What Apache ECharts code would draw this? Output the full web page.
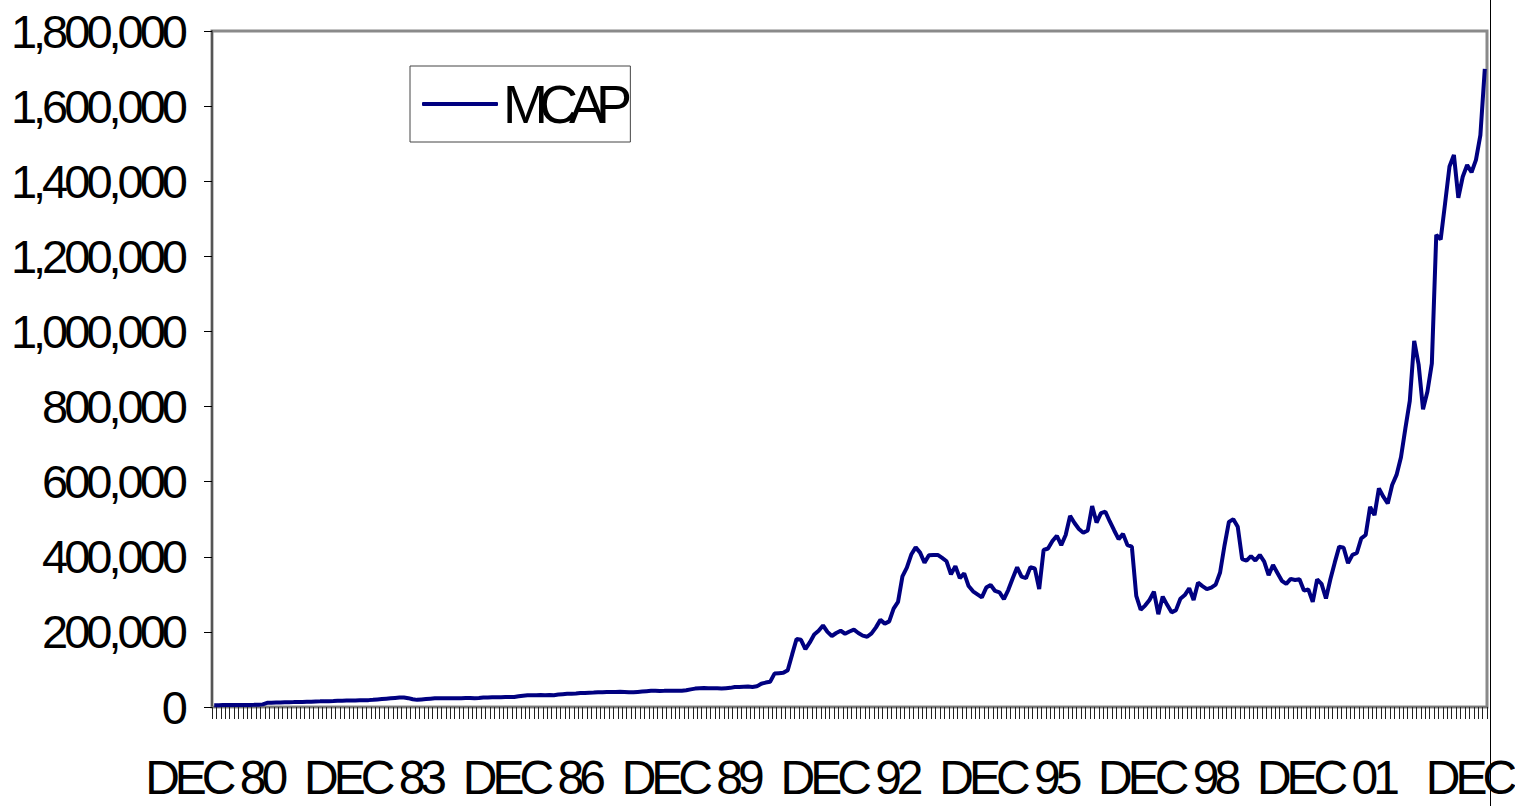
<!DOCTYPE html>
<html>
<head>
<meta charset="utf-8">
<title>MCAP</title>
<script src="https://cdn.jsdelivr.net/npm/echarts@6/dist/echarts.min.js"></script>
<style>
  html, body { margin: 0; padding: 0; background: #ffffff; }
  #main { width: 1515px; height: 806px; }
  /* Excel-style tall, tightly tracked labels */
  #main text[style*="47px"] { letter-spacing: -4px; }
  #main text[style*="40px"] { font-size: 48px !important; letter-spacing: -5px; }
  #main text[style*="42px"] { font-size: 54px !important; letter-spacing: -9px; }
</style>
</head>
<body>
<div id="main"></div>
<script>
// monthly market cap, DEC 80 .. DEC 04
var startYear = 1980;
var seriesName = 'MCAP';
var mcap = [
  4800, 4900, 5000, 5100, 5000, 5200, 5300, 5400, 5600, 5800, 6200, 7000,
  11000, 11500, 12000, 12200, 12500, 12800, 13000, 13300, 13500, 14000, 14300, 14800,
  15000, 15300, 15600, 16000, 16500, 16800, 17000, 17200, 17500, 17800, 18000, 18300,
  19000, 20000, 21000, 22000, 23000, 24000, 25000, 25500, 23500, 20500, 19000, 20000,
  21000, 22000, 23000, 23000, 23200, 23000, 23300, 23500, 23400, 24000, 24200, 23500,
  24000, 25000, 25300, 26000, 26200, 26000, 26300, 26500, 26800, 28500, 30000, 31000,
  31200, 31000, 31800, 31300, 32000, 31500, 33000, 34000, 35000, 35500, 36000, 37000,
  37200, 38000, 38300, 39000, 39500, 40000, 40200, 40000, 40500, 40000, 39200, 39000,
  40000, 41000, 42000, 43000, 43200, 42800, 43000, 43500, 43000, 43200, 43500, 44500,
  47000, 49000, 50000, 50300, 50000, 50200, 49800, 49000, 50000, 51000, 53000, 53200,
  54000, 54500, 53500, 55000, 62000, 65000, 67000, 89000, 90000, 91000, 98000, 140000,
  181000, 179000, 154000, 172000, 193000, 203000, 217000, 200000, 189000, 197000, 203000, 195000,
  201000, 206000, 197000, 190000, 187000, 196000, 212000, 232000, 222000, 228000, 262000, 280000,
  348000, 371000, 406000, 425000, 411000, 384000, 404000, 405000, 405000, 397000, 388000, 353000,
  375000, 343000, 356000, 322000, 308000, 300000, 292000, 318000, 325000, 309000, 305000, 287000,
  312000, 343000, 372000, 347000, 343000, 372000, 369000, 314000, 418000, 422000, 442000, 456000,
  431000, 458000, 509000, 490000, 474000, 464000, 470000, 535000, 491000, 516000, 520000, 494000,
  470000, 447000, 461000, 431000, 427000, 296000, 259000, 270000, 285000, 307000, 247000, 294000,
  272000, 252000, 258000, 288000, 298000, 316000, 285000, 331000, 322000, 314000, 318000, 326000,
  358000, 430000, 493000, 500000, 480000, 394000, 390000, 402000, 390000, 405000, 387000, 351000,
  378000, 357000, 336000, 328000, 341000, 338000, 340000, 310000, 313000, 280000, 340000, 328000,
  289000, 340000, 385000, 427000, 424000, 383000, 405000, 410000, 449000, 458000, 533000, 511000,
  582000, 560000, 542000, 591000, 618000, 665000, 742000, 815000, 975000, 912000, 793000, 840000,
  915000, 1257000, 1245000, 1341000, 1439000, 1470000, 1356000, 1412000, 1443000, 1424000, 1457000, 1523000,
  1699000
];
var monthNames = ['DEC', 'JAN', 'FEB', 'MAR', 'APR', 'MAY', 'JUN', 'JUL', 'AUG', 'SEP', 'OCT', 'NOV'];
var yTicks = [0, 200000, 400000, 600000, 800000, 1000000, 1200000, 1400000, 1600000, 1800000];

// category labels like "DEC 80", "JAN 81" ...
var months = [];
for (var i = 0; i < mcap.length; i++) {
  var yr = startYear + Math.ceil(i / 12);
  months.push(monthNames[i % 12] + ' ' + String(yr).slice(2));
}

var FONT = "Liberation Sans";

var myChart = echarts.init(document.getElementById('main'), null, { renderer: 'svg' });
myChart.setOption({
  animation: false,
  backgroundColor: '#ffffff',
  grid: {
    left: 212,
    right: 28,
    top: 31,
    bottom: 99,
    containLabel: false,
    outerBoundsMode: 'none',
    show: true,
    borderColor: '#8a8a8a',
    borderWidth: 3,
    backgroundColor: '#ffffff'
  },
  legend: {
    data: [seriesName],
    left: 410,
    top: 66,
    orient: 'horizontal',
    padding: [17, 6, 17, 12],
    backgroundColor: '#ffffff',
    borderColor: '#444444',
    borderWidth: 1,
    borderRadius: 0,
    itemWidth: 76,
    itemHeight: 4,
    icon: 'roundRect',
    textStyle: { color: '#000000', fontSize: 42, fontFamily: FONT }
  },
  xAxis: {
    type: 'category',
    data: months,
    boundaryGap: true,
    axisLine: { lineStyle: { color: '#7a7a7a', width: 2 } },
    axisTick: {
      show: true,
      interval: 0,
      length: 12,
      lineStyle: { color: '#222222', width: 1 }
    },
    axisLabel: {
      interval: 35,
      margin: 50,
      color: '#000000',
      fontSize: 40,
      fontFamily: FONT,
      hideOverlap: false,
      showMinLabel: true,
      showMaxLabel: true,
      formatter: function (v, idx) {
        if (idx === mcap.length - 1) return '{end|' + v + '}';
        return v;
      },
      rich: {
        end: { padding: [0, 0, 0, 20], fontSize: 40, fontFamily: FONT, color: '#000000' }
      }
    },
    splitLine: { show: false }
  },
  yAxis: {
    type: 'value',
    min: yTicks[0],
    max: yTicks[yTicks.length - 1],
    interval: yTicks[1] - yTicks[0],
    axisLine: { show: true, lineStyle: { color: '#555555', width: 2 } },
    axisTick: { show: true, length: 8, lineStyle: { color: '#000000', width: 1 } },
    axisLabel: {
      margin: 28,
      color: '#000000',
      fontSize: 47,
      fontFamily: FONT,
      formatter: function (v) { return v.toLocaleString('en-US'); }
    },
    splitLine: { show: false }
  },
  series: [
    {
      name: seriesName,
      type: 'line',
      data: mcap,
      symbol: 'none',
      smooth: false,
      lineStyle: { color: '#000080', width: 4 },
      itemStyle: { color: '#000080' }
    }
  ],
  graphic: [
    {
      type: 'line',
      shape: { x1: 1490.5, y1: 0, x2: 1490.5, y2: 806 },
      style: { stroke: '#000000', lineWidth: 1 },
      z: 100
    }
  ]
});
</script>
</body>
</html>
